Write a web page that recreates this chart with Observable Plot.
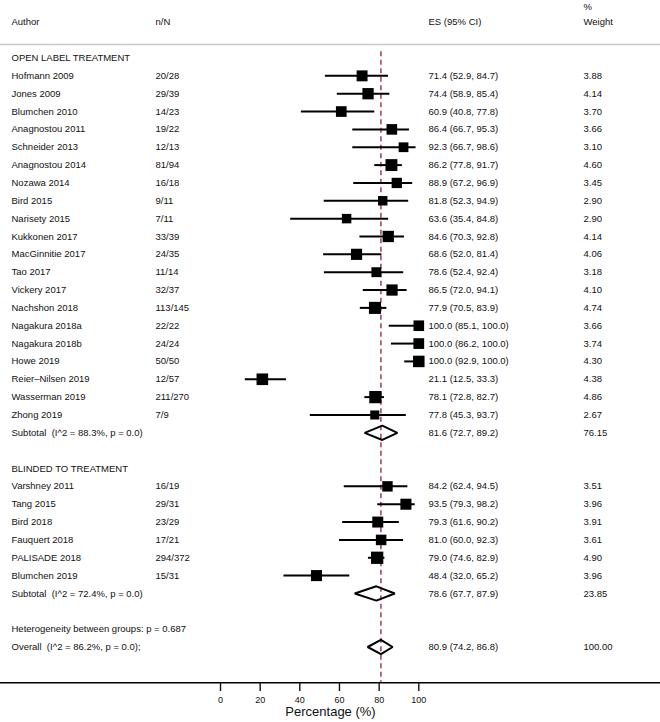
<!DOCTYPE html>
<html>
<head>
<meta charset="utf-8">
<script src="https://cdn.jsdelivr.net/npm/d3@7"></script>
<script src="https://cdn.jsdelivr.net/npm/@observablehq/plot@0.6"></script>
<style>
  html, body { margin: 0; padding: 0; background: #fff; }
  #chart svg { display: block; }
</style>
</head>
<body>
<div id="chart"></div>
<script>
// ---------- Data ----------
const group1Label = "OPEN LABEL TREATMENT";
const authors1 = ["Hofmann 2009","Jones 2009","Blumchen 2010","Anagnostou 2011","Schneider 2013","Anagnostou 2014","Nozawa 2014","Bird 2015","Narisety 2015","Kukkonen 2017","MacGinnitie 2017","Tao 2017","Vickery 2017","Nachshon 2018","Nagakura 2018a","Nagakura 2018b","Howe 2019","Reier\u2013Nilsen 2019","Wasserman 2019","Zhong 2019"];
const nN1 = ["20/28","29/39","14/23","19/22","12/13","81/94","16/18","9/11","7/11","33/39","24/35","11/14","32/37","113/145","22/22","24/24","50/50","12/57","211/270","7/9"];
const es1 = [71.4,74.4,60.9,86.4,92.3,86.2,88.9,81.8,63.6,84.6,68.6,78.6,86.5,77.9,100.0,100.0,100.0,21.1,78.1,77.8];
const lo1 = [52.9,58.9,40.8,66.7,66.7,77.8,67.2,52.3,35.4,70.3,52.0,52.4,72.0,70.5,85.1,86.2,92.9,12.5,72.8,45.3];
const hi1 = [84.7,85.4,77.8,95.3,98.6,91.7,96.9,94.9,84.8,92.8,81.4,92.4,94.1,83.9,100.0,100.0,100.0,33.3,82.7,93.7];
const w1  = [3.88,4.14,3.70,3.66,3.10,4.60,3.45,2.90,2.90,4.14,4.06,3.18,4.10,4.74,3.66,3.74,4.30,4.38,4.86,2.67];

const group2Label = "BLINDED TO TREATMENT";
const authors2 = ["Varshney 2011","Tang 2015","Bird 2018","Fauquert 2018","PALISADE 2018","Blumchen 2019"];
const nN2 = ["16/19","29/31","23/29","17/21","294/372","15/31"];
const es2 = [84.2,93.5,79.3,81.0,79.0,48.4];
const lo2 = [62.4,79.3,61.6,60.0,74.6,32.0];
const hi2 = [94.5,98.2,90.2,92.3,82.9,65.2];
const w2  = [3.51,3.96,3.91,3.61,4.90,3.96];

const pooledLabels = ["Subtotal\u00a0\u00a0(I^2 = 88.3%, p = 0.0)", "Subtotal\u00a0\u00a0(I^2 = 72.4%, p = 0.0)", "Overall\u00a0\u00a0(I^2 = 86.2%, p = 0.0);"];
const pooledES = [81.6, 78.6, 80.9];
const pooledLo = [72.7, 67.7, 74.2];
const pooledHi = [89.2, 87.9, 86.8];
const pooledW  = [76.15, 23.85, 100.00];
const heterogeneityText = "Heterogeneity between groups: p = 0.687";

const headers = {author: "Author", nN: "n/N", es: "ES (95% CI)", pct: "%", weight: "Weight"};
const xTicks = [0, 20, 40, 60, 80, 100];
const xTitle = "Percentage (%)";

// ---------- Build table ----------
const fmt1 = d3.format(".1f");
const fmt2 = d3.format(".2f");
const studies = [];
authors1.forEach((a, i) => studies.push({row: 1 + i, author: a, nN: nN1[i], es: es1[i], lo: lo1[i], hi: hi1[i], w: w1[i]}));
authors2.forEach((a, i) => studies.push({row: 24 + i, author: a, nN: nN2[i], es: es2[i], lo: lo2[i], hi: hi2[i], w: w2[i]}));
studies.forEach(d => { d.esText = `${fmt1(d.es)} (${fmt1(d.lo)}, ${fmt1(d.hi)})`; d.wText = fmt2(d.w); });

const pooledRows = [21, 30, 33];
const pooled = pooledLabels.map((l, i) => ({
  row: pooledRows[i], author: l, es: pooledES[i], lo: pooledLo[i], hi: pooledHi[i], w: pooledW[i],
  esText: `${fmt1(pooledES[i])} (${fmt1(pooledLo[i])}, ${fmt1(pooledHi[i])})`, wText: fmt2(pooledW[i])
}));

const labels = [
  {row: 0, text: group1Label},
  {row: 23, text: group2Label},
  {row: 32, text: heterogeneityText}
];

// diamonds
const dh = 0.4;
const diamondPts = [];
pooled.forEach((d, k) => {
  diamondPts.push({id: k, x: d.lo, y: d.row});
  diamondPts.push({id: k, x: d.es, y: d.row - dh});
  diamondPts.push({id: k, x: d.hi, y: d.row});
  diamondPts.push({id: k, x: d.es, y: d.row + dh});
});

const overallES = pooledES[2];
const FONT = "'Liberation Sans', Arial, Helvetica, sans-serif";
const fs = 9.5;

const colAuthor = 11, colN = 155, colES = 428, colW = 583;

const plot = Plot.plot({
  width: 660,
  height: 722,
  marginTop: 0,
  marginLeft: 0,
  marginRight: 0,
  marginBottom: 40,
  style: {fontFamily: FONT, fontSize: fs + "px", color: "#111", background: "#fff"},
  x: {domain: [0, 100], range: [220, 418.3], axis: null},
  y: {domain: [0, 33], range: [57.5, 646.5], axis: null},
  r: {type: "sqrt", domain: [0, 5], range: [0, 7]},
  marks: [
    // header separator
    Plot.ruleY([-0.76], {stroke: "#c8c8c8", strokeWidth: 1.6}),
    // headers
    Plot.text([headers.author], {y: () => -2, text: d => d, frameAnchor: "left", dx: colAuthor, textAnchor: "start", fontSize: fs}),
    Plot.text([headers.nN], {y: () => -2, text: d => d, frameAnchor: "left", dx: colN, textAnchor: "start", fontSize: fs}),
    Plot.text([headers.es], {y: () => -2, text: d => d, frameAnchor: "left", dx: colES, textAnchor: "start", fontSize: fs}),
    Plot.text([headers.weight], {y: () => -2, text: d => d, frameAnchor: "left", dx: colW, textAnchor: "start", fontSize: fs}),
    Plot.text([headers.pct], {y: () => -2.88, text: d => d, frameAnchor: "left", dx: colW, textAnchor: "start", fontSize: fs}),
    // null line
    Plot.ruleX([overallES], {y1: -0.35, y2: 35, stroke: "#8c2333", strokeWidth: 1.3, strokeDasharray: "5,3.5"}),
    // CI lines
    Plot.ruleY(studies, {y: "row", x1: "lo", x2: "hi", stroke: "#000", strokeWidth: 2}),
    // weight boxes
    Plot.dot(studies, {x: "es", y: "row", r: "w", symbol: "square", fill: "#000", stroke: "none"}),
    // diamonds
    Plot.line(diamondPts, {x: "x", y: "y", z: "id", curve: "linear-closed", stroke: "#000", strokeWidth: 2, fill: "none", strokeLinejoin: "miter"}),
    // text columns
    Plot.text(labels, {y: "row", text: "text", frameAnchor: "left", dx: colAuthor, textAnchor: "start", fontSize: fs}),
    Plot.text(studies.concat(pooled), {y: "row", text: "author", frameAnchor: "left", dx: colAuthor, textAnchor: "start", fontSize: fs}),
    Plot.text(studies, {y: "row", text: "nN", frameAnchor: "left", dx: colN, textAnchor: "start", fontSize: fs}),
    Plot.text(studies.concat(pooled), {y: "row", text: "esText", frameAnchor: "left", dx: colES, textAnchor: "start", fontSize: fs}),
    Plot.text(studies.concat(pooled), {y: "row", text: "wText", frameAnchor: "left", dx: colW, textAnchor: "start", fontSize: fs}),
    // axis
    Plot.ruleY([35], {stroke: "#000", strokeWidth: 1.6}),
    Plot.axisX({ticks: xTicks, tickSize: 9, tickPadding: 5, fontSize: 9, strokeWidth: 1.4, label: null, anchor: "bottom"}),
    Plot.text([xTitle], {frameAnchor: "bottom", dy: 33, text: d => d, fontSize: 13, textAnchor: "middle"})
  ]
});
document.getElementById("chart").appendChild(plot);
</script>
</body>
</html>
